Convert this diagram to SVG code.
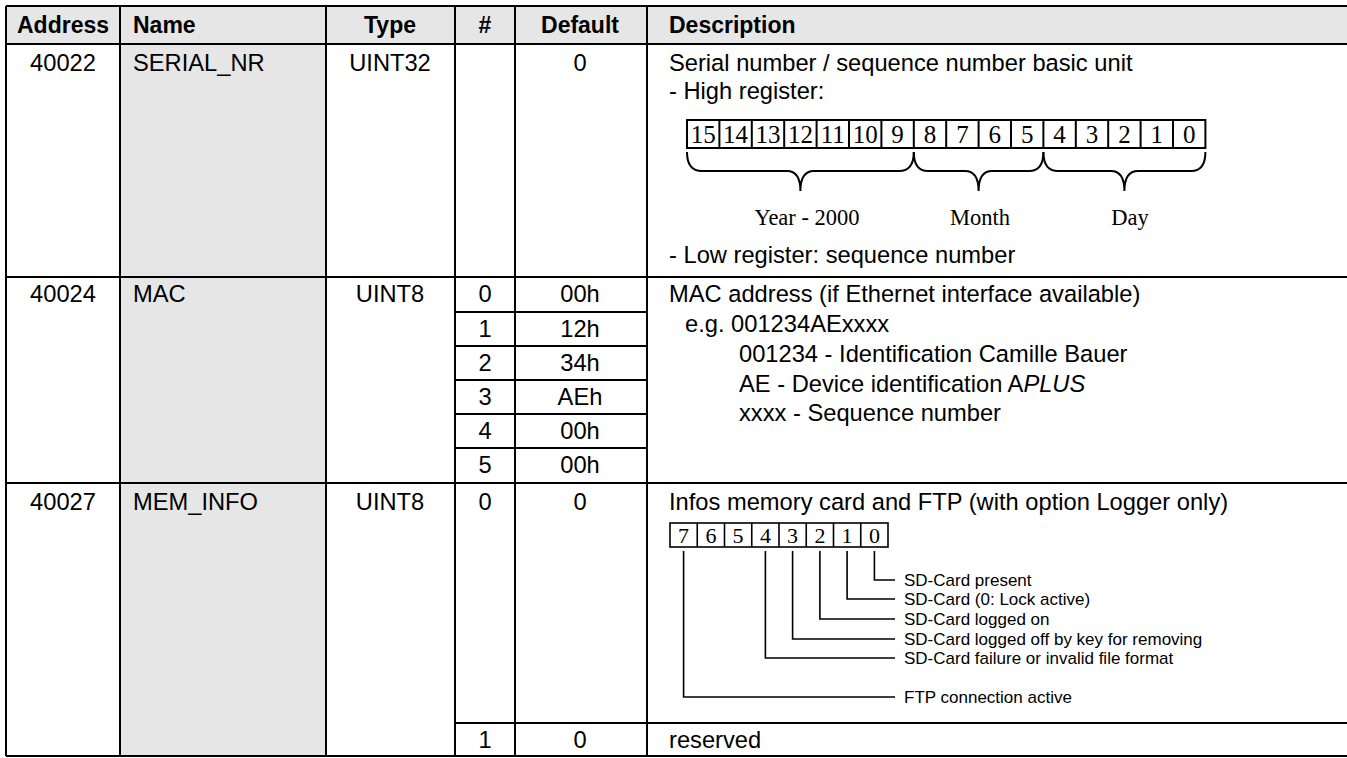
<svg xmlns="http://www.w3.org/2000/svg" width="1347" height="758" viewBox="0 0 1347 758">
<style>
.t{font-family:"Liberation Sans",Arial,sans-serif;font-size:23.7px;fill:#000}
.h{font-weight:bold;font-size:23px}
.m{text-anchor:middle}
.s{font-family:"Liberation Serif","Times New Roman",serif;fill:#000;text-anchor:middle}
.sm{font-family:"Liberation Sans",Arial,sans-serif;font-size:17px;fill:#000}
.ln{stroke:#000;stroke-width:2;fill:none}
.lt{stroke:#000;stroke-width:1.6;fill:none}
.gray{fill:#e6e6e6}
</style>
<rect x="0" y="0" width="1347" height="758" fill="#fff"/>
<g id="background">
<rect class="gray" x="6" y="6" width="1341" height="38"/>
<rect class="gray" x="120" y="44" width="206" height="712"/>
</g>
<g id="grid">
<path class="ln" d="M6,6 H1347 M6,44 H1347 M6,277 H1347 M6,483 H1347 M6,756 H1347"/>
<path class="ln" d="M6,6 V756 M120,6 V756 M326,6 V756 M455,6 V756 M515,6 V756 M647,6 V756"/>
<path class="ln" d="M455,312 H647 M455,346 H647 M455,380 H647 M455,414 H647 M455,448 H647 M455,723 H1347"/>
</g>
<g id="header">
<text class="t h m" x="63" y="33">Address</text>
<text class="t h" x="133" y="33">Name</text>
<text class="t h m" x="390" y="33">Type</text>
<text class="t h m" x="485" y="33">#</text>
<text class="t h m" x="580" y="33">Default</text>
<text class="t h" x="669" y="33">Description</text>
</g>
<g id="row-serial">
<text class="t m" x="63" y="71">40022</text>
<text class="t" x="133" y="71">SERIAL_NR</text>
<text class="t m" x="390" y="71">UINT32</text>
<text class="t m" x="580" y="71">0</text>
<text class="t" x="669" y="71">Serial number / sequence number basic unit</text>
<text class="t" x="669" y="99">- High register:</text>
<g id="serial-bits">
<rect class="ln" x="687" y="120" width="518.4" height="28"/>
<path class="ln" d="M719.4,120 V148 M751.8,120 V148 M784.2,120 V148 M816.6,120 V148 M849,120 V148 M881.4,120 V148 M913.8,120 V148 M946.2,120 V148 M978.6,120 V148 M1011,120 V148 M1043.4,120 V148 M1075.8,120 V148 M1108.2,120 V148 M1140.6,120 V148 M1173,120 V148"/>
<g font-size="25">
<text class="s" x="703.2" y="143">15</text>
<text class="s" x="735.6" y="143">14</text>
<text class="s" x="768" y="143">13</text>
<text class="s" x="800.4" y="143">12</text>
<text class="s" x="832.8" y="143">11</text>
<text class="s" x="865.2" y="143">10</text>
<text class="s" x="897.6" y="143">9</text>
<text class="s" x="930" y="143">8</text>
<text class="s" x="962.4" y="143">7</text>
<text class="s" x="994.8" y="143">6</text>
<text class="s" x="1027.2" y="143">5</text>
<text class="s" x="1059.6" y="143">4</text>
<text class="s" x="1092" y="143">3</text>
<text class="s" x="1124.4" y="143">2</text>
<text class="s" x="1156.8" y="143">1</text>
<text class="s" x="1189.2" y="143">0</text>
</g>
<path class="ln" d="M687,152 Q687,171 702,171 L787,171 Q800.4,171 800.4,191 Q800.4,171 814,171 L899,171 Q913.8,171 913.8,152"/>
<path class="ln" d="M913.8,152 Q913.8,171 928,171 L965,171 Q978.6,171 978.6,191 Q978.6,171 992,171 L1029,171 Q1043.4,171 1043.4,152"/>
<path class="ln" d="M1043.4,152 Q1043.4,171 1058,171 L1111,171 Q1124.4,171 1124.4,191 Q1124.4,171 1138,171 L1191,171 Q1205.4,171 1205.4,152"/>
<g font-size="22.5">
<text class="s" x="807" y="225">Year - 2000</text>
<text class="s" x="980" y="225">Month</text>
<text class="s" x="1130" y="225">Day</text>
</g>
</g>
<text class="t" x="669" y="263">- Low register: sequence number</text>
</g>
<g id="row-mac">
<text class="t m" x="63" y="302">40024</text>
<text class="t" x="133" y="302">MAC</text>
<text class="t m" x="390" y="302">UINT8</text>
<text class="t m" x="485" y="302">0</text>
<text class="t m" x="580" y="302">00h</text>
<text class="t m" x="485" y="337">1</text>
<text class="t m" x="580" y="337">12h</text>
<text class="t m" x="485" y="371">2</text>
<text class="t m" x="580" y="371">34h</text>
<text class="t m" x="485" y="405">3</text>
<text class="t m" x="580" y="405">AEh</text>
<text class="t m" x="485" y="439">4</text>
<text class="t m" x="580" y="439">00h</text>
<text class="t m" x="485" y="473">5</text>
<text class="t m" x="580" y="473">00h</text>
<text class="t" x="669" y="302">MAC address (if Ethernet interface available)</text>
<text class="t" x="685" y="332">e.g. 001234AExxxx</text>
<text class="t" x="739" y="362">001234 - Identification Camille Bauer</text>
<text class="t" x="739" y="392">AE - Device identification A<tspan font-style="italic">PLUS</tspan></text>
<text class="t" x="739" y="421">xxxx - Sequence number</text>
</g>
<g id="row-mem">
<text class="t m" x="63" y="510">40027</text>
<text class="t" x="133" y="510">MEM_INFO</text>
<text class="t m" x="390" y="510">UINT8</text>
<text class="t m" x="485" y="510">0</text>
<text class="t m" x="580" y="510">0</text>
<text class="t m" x="485" y="748">1</text>
<text class="t m" x="580" y="748">0</text>
<text class="t" x="669" y="510">Infos memory card and FTP (with option Logger only)</text>
<text class="t" x="669" y="748">reserved</text>
<g id="mem-bits">
<rect class="lt" x="670" y="523" width="218" height="24"/>
<path class="lt" d="M697.25,523 V547 M724.5,523 V547 M751.75,523 V547 M779,523 V547 M806.25,523 V547 M833.5,523 V547 M860.75,523 V547"/>
<g font-size="22">
<text class="s" x="683.6" y="543">7</text>
<text class="s" x="710.9" y="543">6</text>
<text class="s" x="738.1" y="543">5</text>
<text class="s" x="765.4" y="543">4</text>
<text class="s" x="792.6" y="543">3</text>
<text class="s" x="819.9" y="543">2</text>
<text class="s" x="847.1" y="543">1</text>
<text class="s" x="874.4" y="543">0</text>
</g>
</g>
</g>
<g id="connectors">
<path class="lt" d="M874.4,551 V580 H895"/>
<path class="lt" d="M847.1,551 V599 H895"/>
<path class="lt" d="M819.9,551 V619 H895"/>
<path class="lt" d="M792.6,551 V639 H895"/>
<path class="lt" d="M765.4,551 V658 H895"/>
<path class="lt" d="M683.6,551 V697 H895"/>
</g>
<g id="bit-labels">
<text class="sm" x="904" y="586">SD-Card present</text>
<text class="sm" x="904" y="605">SD-Card (0: Lock active)</text>
<text class="sm" x="904" y="625">SD-Card logged on</text>
<text class="sm" x="904" y="645">SD-Card logged off by key for removing</text>
<text class="sm" x="904" y="664">SD-Card failure or invalid file format</text>
<text class="sm" x="904" y="703">FTP connection active</text>
</g>
</svg>
